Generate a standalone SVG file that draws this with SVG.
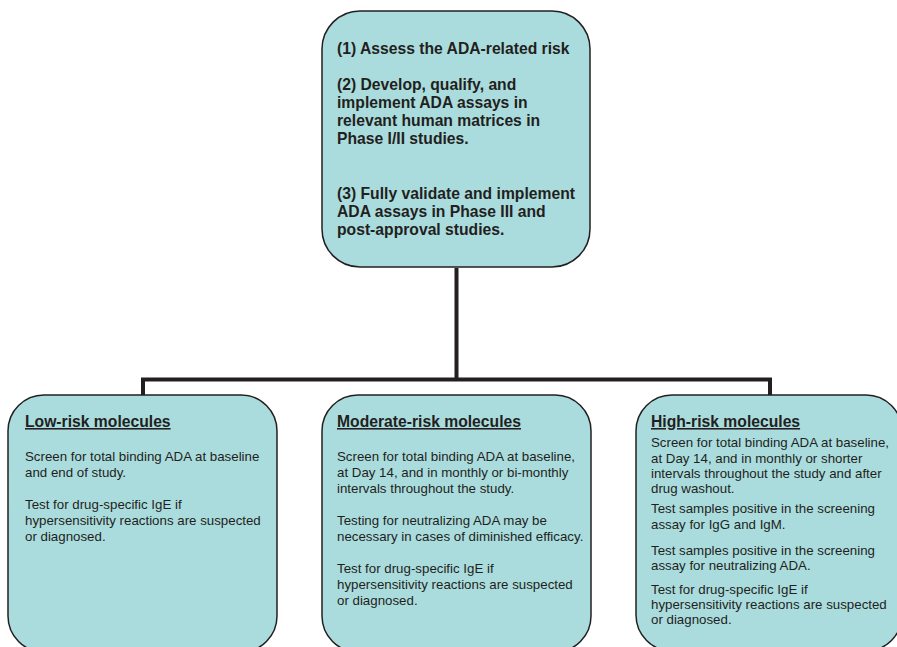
<svg xmlns="http://www.w3.org/2000/svg" width="897" height="647" viewBox="0 0 897 647">
<style>
.box{fill:#aadcde;stroke:#231f20;stroke-width:1.5}
.conn{fill:none;stroke:#231f20;stroke-width:4;stroke-linejoin:miter}
.b{font-family:"Liberation Sans",Arial,sans-serif;font-weight:bold;font-size:15.7px;fill:#231f20}
.t{font-family:"Liberation Sans",Arial,sans-serif;font-size:13.3px;fill:#231f20}
.u{text-decoration:underline}
</style>
<rect width="897" height="647" fill="#ffffff"/>
<g id="connectors">
<path class="conn" d="M456.5 268 V379.5 M143 395 V379.5 H770 V395"/>
</g>
<g id="top">
<rect class="box" x="322" y="11" width="268" height="256" rx="38" ry="38"/>
<text class="b" x="337"><tspan x="337" y="54">(1) Assess the ADA-related risk</tspan><tspan x="337" y="90">(2) Develop, qualify, and</tspan><tspan x="337" y="108">implement ADA assays in</tspan><tspan x="337" y="126">relevant human matrices in</tspan><tspan x="337" y="144">Phase I/II studies.</tspan><tspan x="337" y="199">(3) Fully validate and implement</tspan><tspan x="337" y="217">ADA assays in Phase III and</tspan><tspan x="337" y="235">post-approval studies.</tspan></text>
</g>
<g id="low">
<rect class="box" x="8" y="395" width="269" height="257" rx="36" ry="36"/>
<text class="b u" x="25" y="427">Low-risk molecules</text>
<text class="t"><tspan x="25" y="461">Screen for total binding ADA at baseline</tspan><tspan x="25" y="477">and end of study.</tspan><tspan x="25" y="509">Test for drug-specific IgE if</tspan><tspan x="25" y="525">hypersensitivity reactions are suspected</tspan><tspan x="25" y="541">or diagnosed.</tspan></text>
</g>
<g id="moderate">
<rect class="box" x="322" y="395" width="269" height="257" rx="36" ry="36"/>
<text class="b u" x="337" y="427">Moderate-risk molecules</text>
<text class="t"><tspan x="337" y="461">Screen for total binding ADA at baseline,</tspan><tspan x="337" y="477">at Day 14, and in monthly or bi-monthly</tspan><tspan x="337" y="493">intervals throughout the study.</tspan><tspan x="337" y="525">Testing for neutralizing ADA may be</tspan><tspan x="337" y="541">necessary in cases of diminished efficacy.</tspan><tspan x="337" y="573">Test for drug-specific IgE if</tspan><tspan x="337" y="589">hypersensitivity reactions are suspected</tspan><tspan x="337" y="605">or diagnosed.</tspan></text>
</g>
<g id="high">
<rect class="box" x="636" y="395" width="266" height="256" rx="36" ry="36"/>
<text class="b u" x="651" y="427">High-risk molecules</text>
<text class="t"><tspan x="651" y="447">Screen for total binding ADA at baseline,</tspan><tspan x="651" y="463">at Day 14, and in monthly or shorter</tspan><tspan x="651" y="478">intervals throughout the study and after</tspan><tspan x="651" y="493">drug washout.</tspan><tspan x="651" y="513">Test samples positive in the screening</tspan><tspan x="651" y="529">assay for IgG and IgM.</tspan><tspan x="651" y="555">Test samples positive in the screening</tspan><tspan x="651" y="570">assay for neutralizing ADA.</tspan><tspan x="651" y="594">Test for drug-specific IgE if</tspan><tspan x="651" y="609">hypersensitivity reactions are suspected</tspan><tspan x="651" y="624">or diagnosed.</tspan></text>
</g>
</svg>
